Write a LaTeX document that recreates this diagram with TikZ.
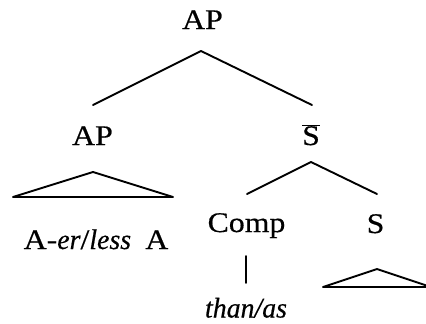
\documentclass[tikz,border=0pt]{standalone}
\usepackage{fontspec}
\setmainfont{Liberation Serif}[UprightFeatures={FakeStretch=1.12,FakeBold=0.5},ItalicFeatures={FakeStretch=0.98,FakeBold=0.5}]
\begin{document}
\begin{tikzpicture}[x=1bp,y=-1bp,
  cat/.style={anchor=base,inner sep=0pt,font=\fontsize{28.5}{30}\selectfont},
  branch/.style={line width=1.9bp,line cap=round,line join=round},
  roof/.style={line width=1.9bp,line join=round}]
  \useasboundingbox (0,0) rectangle (426,324);

  % category labels and terminal strings
  \node[cat] (ap0)  at (202.5,29)  {AP};
  \node[cat] (ap1)  at (92.5,145)  {AP};
  \node[cat] (sbar) at (311,145)   {$\overline{\hbox{S}}$};
  \node[cat] (comp) at (246.5,232) {Comp};
  \node[cat] (s)    at (375.5,233) {S};
  \node[cat] (aer)  at (96,249)    {A-\textit{er}/\textit{less}\enspace A};
  \node[cat] (than) at (246,317.5) {\textit{than/as}};

  % attachment points of the branches
  \coordinate (ap0-foot)  at (201,51);
  \coordinate (ap1-head)  at (93,105);
  \coordinate (sbar-head) at (312,105);
  \coordinate (sbar-foot) at (311,162);
  \coordinate (comp-head) at (247,194);
  \coordinate (s-head)    at (377,194);
  \coordinate (comp-foot) at (246,256);
  \coordinate (than-head) at (246,283);

  % branches
  \draw[branch] (ap1-head) -- (ap0-foot) -- (sbar-head);
  \draw[branch] (comp-head) -- (sbar-foot) -- (s-head);
  \draw[branch] (comp-foot) -- (than-head);

  % roofs over unanalysed constituents
  \coordinate (ap1-foot) at (93,172);
  \coordinate (s-foot)   at (377,269);
  \draw[roof] (ap1-foot) -- (173,197) -- (13,197) -- cycle;
  \draw[roof] (s-foot) -- (431,287) -- (323,287) -- cycle;
\end{tikzpicture}
\end{document}
